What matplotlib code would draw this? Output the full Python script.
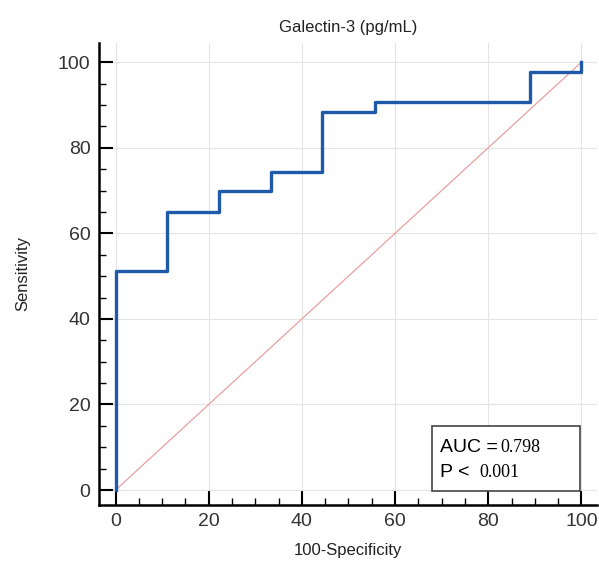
import matplotlib
matplotlib.use("Agg")
import matplotlib.pyplot as plt
from matplotlib.patches import Rectangle
from matplotlib.ticker import MultipleLocator

plt.rcParams['font.family'] = ['Liberation Sans', 'DejaVu Sans']

# ROC curve points (100-specificity, sensitivity)
fpr = [0, 0, 11.1, 22.2, 33.3, 44.4, 55.6, 88.9, 100]
tpr = [0, 51.2, 65.1, 69.8, 74.4, 88.4, 90.7, 97.7, 100]
ref_line = [0, 100]
auc_text = "0.798"
p_text = "0.001"

fig = plt.figure(figsize=(5.99, 5.69), dpi=100)
ax = fig.add_axes([0.165, 0.1125, 0.832, 0.812])

ax.plot(ref_line, ref_line, color="#e8a0a0", lw=0.9, zorder=2)
ax.step(fpr, tpr, where='post', color="#1f5aa8", lw=2.4, zorder=3)

ax.set_xlim(-3.6, 103.4)
ax.set_ylim(-3.5, 104.5)
ax.xaxis.set_major_locator(MultipleLocator(20))
ax.yaxis.set_major_locator(MultipleLocator(20))
ax.xaxis.set_minor_locator(MultipleLocator(5))
ax.yaxis.set_minor_locator(MultipleLocator(5))
ax.tick_params(which='major', direction='in', length=10, width=1.5, labelsize=14,
               pad=6, labelcolor='#333333')
ax.tick_params(which='minor', direction='in', length=5, width=1.0)
ax.grid(True, which='major', color="#e4e4e4", lw=0.8)
ax.set_axisbelow(True)

for s in ['top', 'right']:
    ax.spines[s].set_visible(False)
for s in ['left', 'bottom']:
    ax.spines[s].set_linewidth(1.8)

ax.set_title("Galectin-3 (pg/mL)", fontsize=12, pad=8, color='#222222')
ax.set_xlabel("100-Specificity", fontsize=12, labelpad=9, color='#222222')
ax.set_ylabel("Sensitivity", fontsize=12, labelpad=20, color='#222222')

# AUC box
ax.add_patch(Rectangle((67.9, -0.2), 31.8, 15.2, fill=True, facecolor='white',
                       edgecolor='#444444', lw=1.2, zorder=4))
ax.text(69.6, 10.0, "AUC =", fontsize=14, va='center', zorder=5)
ax.text(82.6, 10.0, auc_text, fontsize=13, va='center', zorder=5,
        family='Liberation Serif')
ax.text(69.6, 4.2, "P <", fontsize=14, va='center', zorder=5)
ax.text(78.0, 4.2, p_text, fontsize=13, va='center', zorder=5,
        family='Liberation Serif')

fig.savefig("out.png", dpi=100)
